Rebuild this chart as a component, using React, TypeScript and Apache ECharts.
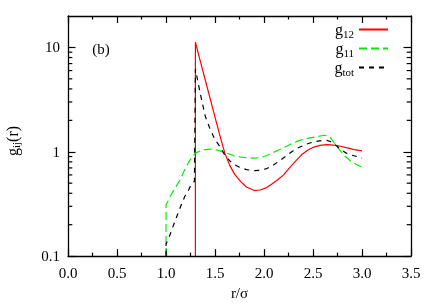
import React, { useEffect, useRef } from 'react';
import * as echarts from 'echarts';

const FONT = '"Liberation Serif", "DejaVu Serif", serif';

const xTickLabels = ['0.0', '0.5', '1.0', '1.5', '2.0', '2.5', '3.0', '3.5'];
const yMajorTicks = [0.1, 1, 10];
const yTickLabels = ['0.1', '1', '10'];
const yMinorTicks = [0.2, 0.3, 0.4, 0.5, 0.6, 0.7, 0.8, 0.9, 2, 3, 4, 5, 6, 7, 8, 9];

const r12 = [1.3, 1.3, 1.35, 1.4, 1.45, 1.5, 1.55, 1.6, 1.65, 1.7, 1.76, 1.82, 1.9, 1.96, 2.02, 2.08, 2.14, 2.2, 2.26, 2.32, 2.38, 2.44, 2.5, 2.57, 2.64, 2.71, 2.78, 2.85, 2.92, 3.0];
const g12 = [0.1, 11.2, 7.4, 4.9, 3.25, 2.15, 1.43, 0.97, 0.74, 0.61, 0.52, 0.46, 0.425, 0.43, 0.45, 0.49, 0.54, 0.6, 0.7, 0.81, 0.93, 1.03, 1.1, 1.15, 1.17, 1.16, 1.13, 1.09, 1.05, 1.02];

const r11 = [1.0, 1.0, 1.03, 1.06, 1.1, 1.14, 1.18, 1.23, 1.27, 1.3, 1.35, 1.4, 1.45, 1.5, 1.55, 1.62, 1.69, 1.76, 1.83, 1.9, 1.97, 2.03, 2.09, 2.16, 2.23, 2.3, 2.38, 2.47, 2.55, 2.61, 2.65, 2.68, 2.72, 2.78, 2.83, 2.88, 2.94, 3.0];
const g11 = [0.1, 0.31, 0.35, 0.4, 0.46, 0.53, 0.64, 0.79, 0.9, 0.97, 1.02, 1.05, 1.06, 1.05, 1.02, 0.97, 0.92, 0.89, 0.875, 0.87, 0.88, 0.92, 0.98, 1.05, 1.13, 1.22, 1.3, 1.36, 1.4, 1.44, 1.42, 1.36, 1.2, 1.02, 0.9, 0.82, 0.76, 0.71];

const rTot = [1.0, 1.0, 1.03, 1.06, 1.11, 1.15, 1.19, 1.23, 1.26, 1.29, 1.3, 1.35, 1.4, 1.45, 1.5, 1.55, 1.6, 1.65, 1.69, 1.75, 1.82, 1.89, 1.96, 2.03, 2.1, 2.16, 2.23, 2.32, 2.43, 2.5, 2.57, 2.64, 2.69, 2.74, 2.78, 2.84, 2.89, 2.95, 3.0];
const gTot = [0.1, 0.13, 0.15, 0.18, 0.24, 0.3, 0.37, 0.43, 0.49, 0.52, 6.2, 3.6, 2.2, 1.65, 1.31, 1.12, 0.93, 0.82, 0.76, 0.71, 0.675, 0.66, 0.665, 0.69, 0.75, 0.82, 0.92, 1.06, 1.18, 1.24, 1.27, 1.29, 1.24, 1.14, 1.06, 0.97, 0.93, 0.9, 0.87];

const zip = (xs: number[], ys: number[]) => xs.map((x, i) => [x, ys[i]]);

export default function App() {
  const ref = useRef<HTMLDivElement>(null);
  useEffect(() => {
    const chart = echarts.init(ref.current!, null, { renderer: 'svg' });
    const axisLine = { show: true, onZero: false, lineStyle: { color: '#000', width: 1.3 } };
    const tickLine = { color: '#000', width: 1.2 };
    const xBase = {
      type: 'value', min: 0, max: 3.5, interval: 0.5,
      axisLine, splitLine: { show: false },
      axisTick: { inside: true, length: 7, lineStyle: tickLine },
      minorTick: { show: true, splitNumber: 2, length: 3.5, lineStyle: tickLine },
      minorSplitLine: { show: false },
    };
    const yBase = {
      type: 'log', logBase: 10, min: 0.1, max: 20,
      splitLine: { show: false }, axisLine,
      axisTick: { inside: true, length: 7.5, lineStyle: tickLine, customValues: yMajorTicks },
    };
    chart.setOption({
      animation: false,
      grid: { left: 68, right: 25, top: 16, bottom: 45 },
      xAxis: [
        {
          ...xBase, position: 'bottom',
          name: 'r/σ', nameLocation: 'middle', nameGap: 28,
          nameTextStyle: { fontFamily: FONT, fontSize: 15, color: '#000' },
          axisLabel: {
            margin: 9, fontFamily: FONT, fontSize: 15, color: '#000',
            formatter: (v: number) => xTickLabels[Math.round(v / 0.5)] ?? '',
          },
        },
        { ...xBase, position: 'top', axisLabel: { show: false } },
      ],
      yAxis: [
        {
          ...yBase, position: 'left',
          axisLabel: {
            margin: 8, fontFamily: FONT, fontSize: 15, color: '#000', customValues: yMajorTicks,
            formatter: (v: number) => yTickLabels[yMajorTicks.findIndex((t) => Math.abs(t - v) < 1e-9)] ?? '',
          },
        },
        { ...yBase, position: 'right', axisLabel: { show: false } },
      ],
      legend: {
        orient: 'vertical', right: 42, top: 16.5, align: 'right',
        itemWidth: 29, itemHeight: 12, itemGap: 1.5,
        data: ['g12', 'g11', 'gtot'],
        itemStyle: { opacity: 0 },
        formatter: (n: string) => 'g{sub|' + n.slice(1) + '}',
        textStyle: {
          fontFamily: FONT, fontSize: 16, color: '#000',
          rich: { sub: { fontSize: 11, fontFamily: FONT, color: '#000', padding: [8, 0, 0, 0] } },
        },
      },
      graphic: [
        { type: 'text', x: 101, y: 48.5, style: { text: '(b)', font: '15px ' + FONT, fill: '#000', align: 'center', verticalAlign: 'middle' } },
        {
          type: 'text', x: 12, y: 141, rotation: Math.PI / 2,
          style: {
            text: 'g{sub|ij}(r)', fontFamily: FONT, fontSize: 16, fill: '#000', align: 'center', verticalAlign: 'middle',
            rich: { sub: { fontSize: 11, fontFamily: FONT, fill: '#000', padding: [7, 0, 0, 0] } },
          },
        },
      ],
      series: [
        {
          type: 'custom', silent: true, xAxisIndex: 0, yAxisIndex: 1,
          data: yMinorTicks.map((v) => [1.75, v]),
          renderItem: (params: any, api: any) => {
            const p = api.coord([1.75, api.value(1)]);
            const cs = params.coordSys;
            const st = { stroke: '#000', lineWidth: 1.2 };
            return {
              type: 'group',
              children: [
                { type: 'line', shape: { x1: cs.x, y1: p[1], x2: cs.x + 4.3, y2: p[1] }, style: st },
                { type: 'line', shape: { x1: cs.x + cs.width - 4.3, y1: p[1], x2: cs.x + cs.width, y2: p[1] }, style: st },
              ],
            };
          },
        },
        {
          name: 'g12', type: 'line', data: zip(r12, g12), showSymbol: false, symbol: 'none',
          lineStyle: { color: '#ff0000', width: 1.2 }, itemStyle: { color: '#ff0000' },
        },
        {
          name: 'g11', type: 'line', data: zip(r11, g11), showSymbol: false, symbol: 'none',
          lineStyle: { color: '#00ee00', width: 1.2, type: [8, 4] }, itemStyle: { color: '#00ee00' },
        },
        {
          name: 'gtot', type: 'line', data: zip(rTot, gTot), showSymbol: false, symbol: 'none',
          lineStyle: { color: '#000', width: 1.2, type: [5, 5] }, itemStyle: { color: '#000' },
        },
      ],
    });
    return () => chart.dispose();
  }, []);
  return <div ref={ref} style={{ position: 'fixed', left: 0, top: 0, width: 436, height: 305 }} />;
}
